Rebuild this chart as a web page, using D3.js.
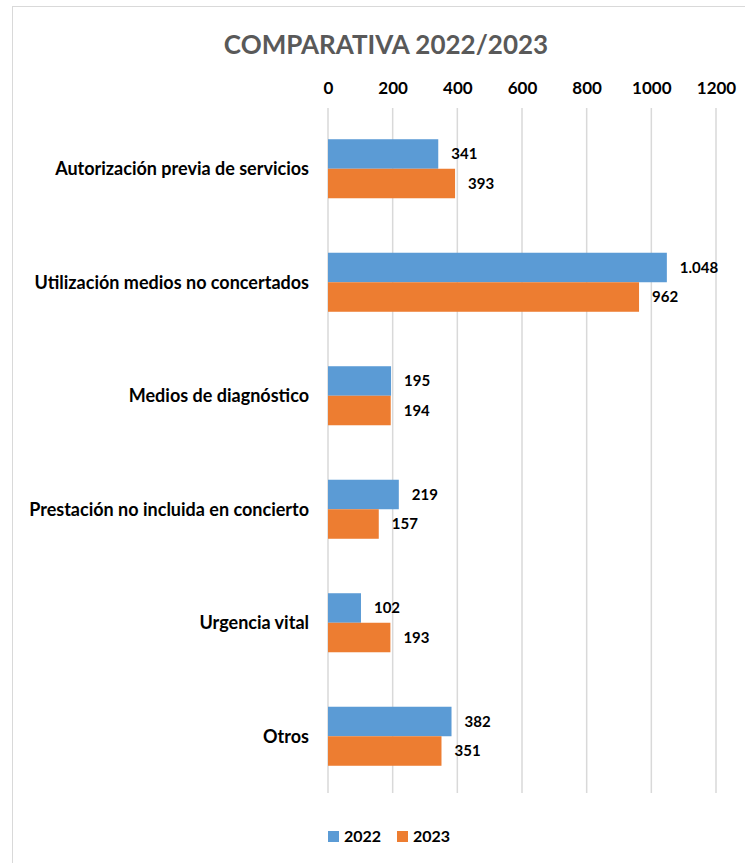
<!DOCTYPE html>
<html>
<head>
<meta charset="utf-8">
<script src="https://cdn.jsdelivr.net/npm/d3@7"></script>
<style>
  html, body { margin: 0; padding: 0; background: #fff; }
  svg { display: block; }
  text { font-family: Lato, "Open Sans", sans-serif; font-weight: bold; }
</style>
</head>
<body>
<svg id="chart" width="745" height="863"></svg>
<script>
const categories = [
  "Autorización previa de servicios",
  "Utilización medios no concertados",
  "Medios de diagnóstico",
  "Prestación no incluida en concierto",
  "Urgencia vital",
  "Otros"
];
const series = ["2022", "2023"];
const values2022 = [341, 1048, 195, 219, 102, 382];
const values2023 = [393, 962, 194, 157, 193, 351];
const tickValues = [0, 200, 400, 600, 800, 1000, 1200];
const colors = ["#5B9BD5", "#ED7D31"];

const svg = d3.select("#chart");
const W = 745, H = 863;

// outer frame
svg.append("rect")
  .attr("x", 12.5).attr("y", 6.5)
  .attr("width", W + 10).attr("height", H + 10)
  .attr("fill", "#fff").attr("stroke", "#D9D9D9").attr("stroke-width", 1);

const plot = { left: 328, right: 716, top: 112, bottom: 793 };

const x = d3.scaleLinear().domain([0, 1200]).range([plot.left, plot.right]);
const y = d3.scaleBand().domain(categories).range([plot.top, plot.bottom]).paddingInner(0.48).paddingOuter(0.24);
const ySub = d3.scaleBand().domain(series).range([0, y.bandwidth()]);

// title
svg.append("text")
  .attr("x", 386).attr("y", 54)
  .attr("text-anchor", "middle")
  .attr("fill", "#595959")
  .style("font-size", "26px")
  .text("COMPARATIVA 2022/2023");

// gridlines
svg.append("g")
  .selectAll("line")
  .data(tickValues)
  .join("line")
  .attr("x1", d => x(d)).attr("x2", d => x(d))
  .attr("y1", plot.top - 4).attr("y2", plot.bottom)
  .attr("stroke", "#D9D9D9").attr("stroke-width", 1.5);

// top axis labels
const axis = d3.axisTop(x).tickValues(tickValues).tickSize(0).tickPadding(0).tickFormat(d3.format("d"));
const gAxis = svg.append("g").attr("transform", `translate(0, 94)`).call(axis);
gAxis.select(".domain").remove();
gAxis.selectAll("text")
  .attr("fill", "#000")
  .attr("dy", "0")
  .style("font-size", "17px")
  .style("font-family", "Lato, sans-serif")
  .style("font-weight", "bold");

// category labels
svg.append("g")
  .selectAll("text")
  .data(categories)
  .join("text")
  .attr("x", 309)
  .attr("y", d => y(d) + y.bandwidth() / 2)
  .attr("dy", "0.35em")
  .attr("text-anchor", "end")
  .attr("fill", "#000")
  .style("font-size", "18px")
  .text(d => d);

// bars
const rows = categories.map((c, i) => ({ cat: c, vals: [values2022[i], values2023[i]] }));
const groups = svg.append("g")
  .selectAll("g")
  .data(rows)
  .join("g")
  .attr("transform", d => `translate(0, ${y(d.cat)})`);

groups.selectAll("rect")
  .data(d => d.vals.map((v, j) => ({ s: series[j], v, j })))
  .join("rect")
  .attr("x", x(0))
  .attr("y", d => ySub(d.s))
  .attr("width", d => x(d.v) - x(0))
  .attr("height", ySub.bandwidth())
  .attr("fill", d => colors[d.j]);

const fmt = v => v >= 1000 ? d3.format(",")(v).replace(/,/g, ".") : String(v);

groups.selectAll("text")
  .data(d => d.vals.map((v, j) => ({ s: series[j], v, j })))
  .join("text")
  .attr("x", d => x(d.v) + 13)
  .attr("y", d => ySub(d.s) + ySub.bandwidth() / 2)
  .attr("dy", "0.35em")
  .attr("fill", "#000")
  .style("font-size", "15px")
  .text(d => fmt(d.v));

// legend
const legend = svg.append("g").attr("transform", "translate(328, 831)");
const items = legend.selectAll("g")
  .data(series)
  .join("g")
  .attr("transform", (d, i) => `translate(${i * 69}, 0)`);
items.append("rect")
  .attr("width", 11).attr("height", 11)
  .attr("fill", (d, i) => colors[i]);
items.append("text")
  .attr("x", 16).attr("y", 5.5)
  .attr("dy", "0.35em")
  .attr("fill", "#000")
  .style("font-size", "16px")
  .text(d => d);
</script>
</body>
</html>
